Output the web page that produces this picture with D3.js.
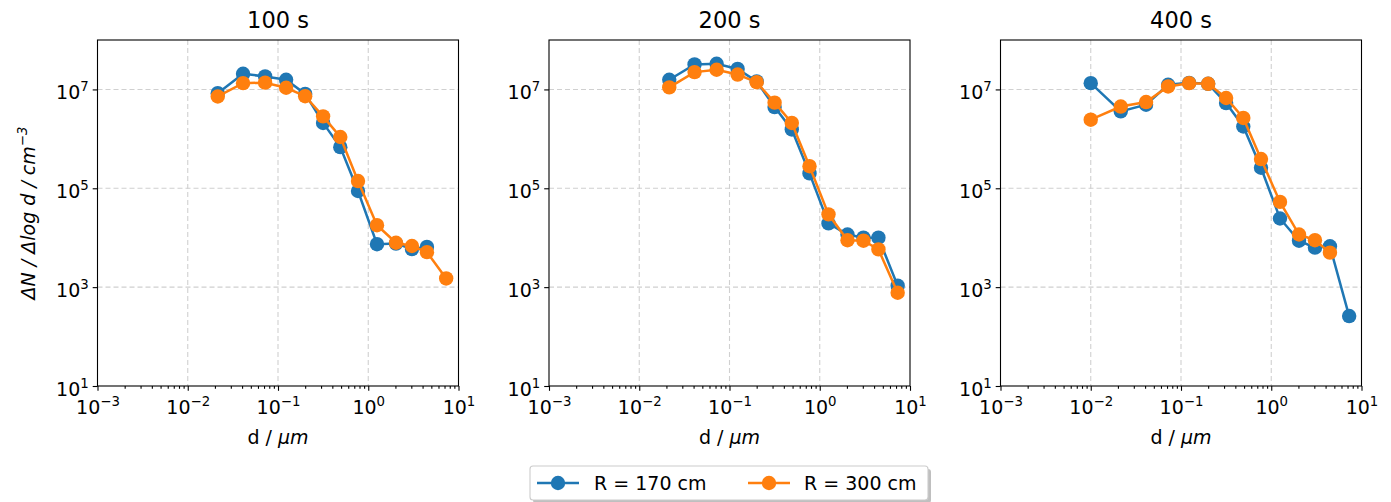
<!DOCTYPE html>
<html><head><meta charset="utf-8">
<script src="https://cdn.jsdelivr.net/npm/d3@7"></script>
<style>
body{margin:0;background:#fff;}
svg{display:block;font-family:"DejaVu Sans",sans-serif;}
</style></head>
<body><svg id="c" width="1391" height="502"></svg>
<script>
const diameters = [0.01, 0.0215, 0.041, 0.072, 0.123, 0.2, 0.316, 0.49, 0.77, 1.25, 2.03, 3.05, 4.47, 7.3];
const panelTitles = ["100 s", "200 s", "400 s"];
const seriesNames = ["R = 170 cm", "R = 300 cm"];
const seriesColors = ["#1f77b4", "#ff7f0e"];
const r170_100s = [null, 8.4e6, 2.07e7, 1.83e7, 1.57e7, 8.1e6, 2.1e6, 6.8e5, 8.8e4, 7.4e3, 7.6e3, 5.9e3, 6.5e3, null];
const r300_100s = [null, 7.2e6, 1.34e7, 1.37e7, 1.08e7, 7.3e6, 2.85e6, 1.09e6, 1.4e5, 1.79e4, 7.9e3, 6.8e3, 5.1e3, 1.5e3];
const r170_200s = [null, 1.57e7, 3.2e7, 3.3e7, 2.6e7, 1.45e7, 4.4e6, 1.55e6, 2.0e5, 1.95e4, 1.16e4, 1.0e4, 1.0e4, 1.07e3];
const r300_200s = [null, 1.1e7, 2.24e7, 2.5e7, 2.0e7, 1.4e7, 5.4e6, 2.1e6, 2.8e5, 2.97e4, 8.9e3, 8.7e3, 5.8e3, 7.7e2];
const r170_400s = [1.34e7, 3.6e6, 4.9e6, 1.24e7, 1.36e7, 1.3e7, 5.3e6, 1.78e6, 2.6e5, 2.45e4, 8.7e3, 6.3e3, 6.7e3, 2.6e2];
const r300_400s = [2.44e6, 4.5e6, 5.55e6, 1.15e7, 1.34e7, 1.3e7, 6.7e6, 2.65e6, 3.9e5, 5.3e4, 1.16e4, 8.9e3, 5.0e3, null];
const xTickExps = [-3, -2, -1, 0, 1];
const yTickExps = [1, 3, 5, 7];

const panels = [
  {title: panelTitles[0], series: [r170_100s, r300_100s]},
  {title: panelTitles[1], series: [r170_200s, r300_200s]},
  {title: panelTitles[2], series: [r170_400s, r300_400s]}
];
const lefts = [97.5, 549, 1000.5];
const W = 361, yTop = 40, yBot = 386;
const fs = 19;
const svg = d3.select("#c");

function pow10Label(sel, exp) {
  sel.text(null);
  sel.append("tspan").text("10");
  sel.append("tspan").attr("font-size", fs * 0.7).attr("dy", -fs * 0.42)
     .text(exp < 0 ? "\u2212" + Math.abs(exp) : String(exp));
}

panels.forEach((p, i) => {
  const x0 = lefts[i];
  const x = d3.scaleLog().domain([1e-3, 1e1]).range([x0, x0 + W]);
  const y = d3.scaleLog().domain([1e1, 1e8]).range([yBot, yTop]);
  const g = svg.append("g");

  // grid
  g.selectAll(".gx").data(xTickExps.slice(1, -1)).join("line")
    .attr("x1", d => x(Math.pow(10, d))).attr("x2", d => x(Math.pow(10, d)))
    .attr("y1", yTop).attr("y2", yBot)
    .attr("stroke", "#d0d0d0").attr("stroke-width", 1.1).attr("stroke-dasharray", "5,3");
  g.selectAll(".gy").data(yTickExps.slice(1)).join("line")
    .attr("y1", d => y(Math.pow(10, d))).attr("y2", d => y(Math.pow(10, d)))
    .attr("x1", x0).attr("x2", x0 + W)
    .attr("stroke", "#d0d0d0").attr("stroke-width", 1.1).attr("stroke-dasharray", "5,3");

  // x axis
  const minor = [];
  for (let e = -3; e < 1; e++) for (let k = 2; k <= 9; k++) minor.push(k * Math.pow(10, e));
  const xa = g.append("g").attr("transform", `translate(0,${yBot})`);
  xa.call(d3.axisBottom(x).tickValues(minor).tickSize(2.8).tickFormat(""));
  xa.append("g").call(d3.axisBottom(x).tickValues(xTickExps.map(e => Math.pow(10, e))).tickSize(4.8).tickPadding(4))
    .selectAll("text").each(function(d) { pow10Label(d3.select(this), Math.round(Math.log10(d))); });
  xa.selectAll("path.domain").remove();
  xa.selectAll("line").attr("stroke", "#000").attr("stroke-width", 1.1);
  xa.selectAll("text").attr("font-size", fs).attr("fill", "#000").attr("font-family", "DejaVu Sans").attr("dy", "1.0em");

  // y axis
  const ya = g.append("g").attr("transform", `translate(${x0},0)`);
  ya.call(d3.axisLeft(y).tickValues(yTickExps.map(e => Math.pow(10, e))).tickSize(4.8).tickPadding(4))
    .selectAll("text").each(function(d) { pow10Label(d3.select(this), Math.round(Math.log10(d))); });
  ya.selectAll("path.domain").remove();
  ya.selectAll("line").attr("stroke", "#000").attr("stroke-width", 1.1);
  ya.selectAll("text").attr("font-size", fs).attr("fill", "#000").attr("font-family", "DejaVu Sans").attr("dy", "0.5em");

  // spines
  g.append("rect").attr("x", x0).attr("y", yTop).attr("width", W).attr("height", yBot - yTop)
    .attr("fill", "none").attr("stroke", "#000").attr("stroke-width", 1.1);

  // series
  p.series.forEach((vals, si) => {
    const pts = diameters.map((d, j) => ({d, v: vals[j]})).filter(o => o.v != null);
    g.append("path").datum(pts)
      .attr("d", d3.line().x(o => x(o.d)).y(o => y(o.v)))
      .attr("fill", "none").attr("stroke", seriesColors[si]).attr("stroke-width", 2.5);
    g.selectAll(".m" + si).data(pts).join("circle")
      .attr("cx", o => x(o.d)).attr("cy", o => y(o.v)).attr("r", 7.2)
      .attr("fill", seriesColors[si]);
  });

  // title
  g.append("text").attr("x", x0 + W / 2).attr("y", 28).attr("text-anchor", "middle")
    .attr("font-size", 22.5).text(p.title);

  // x label
  const xl = g.append("text").attr("x", x0 + W / 2).attr("y", 444).attr("text-anchor", "middle")
    .attr("font-size", fs);
  xl.append("tspan").text("d / ");
  xl.append("tspan").attr("font-style", "italic").text("\u03bcm");
});

// y label
const yl = svg.append("text").attr("transform", `translate(35,${(yTop + yBot) / 2}) rotate(-90)`)
  .attr("text-anchor", "middle").attr("font-size", fs).attr("font-style", "italic");
yl.append("tspan").text("\u0394N / \u0394log d / cm");
yl.append("tspan").attr("font-size", fs * 0.7).attr("dy", -fs * 0.42).text("\u22123");

// legend
const lg = svg.append("g");
const lx = 530, ly = 466, lw = 398, lh = 34;
lg.append("rect").attr("x", lx + 3).attr("y", ly + 3).attr("width", lw).attr("height", lh).attr("rx", 3)
  .attr("fill", "#000").attr("opacity", 0.25);
lg.append("rect").attr("x", lx).attr("y", ly).attr("width", lw).attr("height", lh).attr("rx", 3)
  .attr("fill", "#fff").attr("stroke", "#cccccc").attr("stroke-width", 1.1);
const lcy = ly + lh / 2;
[[537, 594], [748, 804]].forEach(([sx, tx], si) => {
  lg.append("line").attr("x1", sx).attr("x2", sx + 42).attr("y1", lcy).attr("y2", lcy)
    .attr("stroke", seriesColors[si]).attr("stroke-width", 2.5);
  lg.append("circle").attr("cx", sx + 21).attr("cy", lcy).attr("r", 7.2).attr("fill", seriesColors[si]);
  lg.append("text").attr("x", tx).attr("y", lcy).attr("dy", "0.36em").attr("font-size", fs).text(seriesNames[si]);
});
</script></body></html>
